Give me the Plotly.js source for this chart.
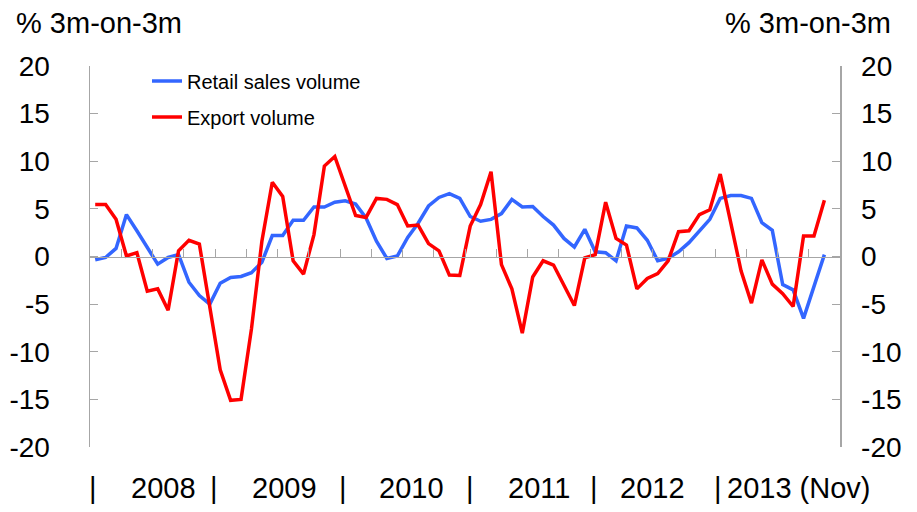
<!DOCTYPE html>
<html>
<head>
<meta charset="utf-8">
<script src="https://cdn.plot.ly/plotly-3.0.1.min.js"></script>
<style>
  html, body { margin: 0; padding: 0; background: #fff; }
  #chart { width: 917px; height: 512px; }
</style>
</head>
<body>
<div id="chart"></div>
<script>
// monthly, Jan 2008 .. Nov 2013 (index 0..70)
const retailSales = [
    -0.35, -0.1, 0.85, 4.4, 2.7, 1.0, -0.8, -0.1, 0.2, -2.7, -4.1, -5.0,
    -2.8, -2.2, -2.1, -1.7, -0.6, 2.2, 2.2, 3.8, 3.8, 5.2, 5.2, 5.7,
    5.85, 5.5, 4.05, 1.6, -0.2, 0.05, 2.0, 3.5, 5.3, 6.2, 6.6, 6.1,
    4.2, 3.7, 3.9, 4.5, 6.0, 5.2, 5.25, 4.2, 3.3, 1.9, 1.0, 2.85,
    0.5, 0.4, -0.45, 3.2, 3.0, 1.7, -0.45, -0.2, 0.5, 1.45, 2.7, 3.9,
    6.1, 6.4, 6.4, 6.1, 3.55, 2.75, -2.95, -3.5, -6.5, -3.2, 0.2
];
const exportVolume = [
    5.45, 5.45, 3.9, 0.05, 0.4, -3.65, -3.4, -5.65, 0.6, 1.7, 1.3, -5.3,
    -11.9, -15.1, -15.0, -7.6, 1.6, 7.8, 6.3, -0.45, -1.85, 2.3, 9.5, 10.5,
    7.4, 4.3, 4.1, 6.1, 6.0, 5.45, 3.2, 3.3, 1.35, 0.6, -1.95, -2.0,
    3.2, 5.45, 8.9, -0.85, -3.4, -8.05, -2.15, -0.45, -0.9, -2.95, -5.15, -0.15,
    0.2, 5.7, 1.9, 1.2, -3.4, -2.3, -1.8, -0.45, 2.6, 2.7, 4.4, 4.9,
    8.65, 3.6, -1.5, -4.9, -0.35, -2.9, -3.9, -5.25, 2.15, 2.15, 5.9
];
const months = retailSales.map((v, i) => i);

// y ticks (plain hyphen for minus, as in the original)
const yTickVals = [-20, -15, -10, -5, 0, 5, 10, 15, 20];
const yTickText = ["-20", "-15", "-10", "-5", "0", "5", "10", "15", "20"];

// bottom labels and where they sit on the month scale
const yearLabels = ["|", "2008", "|", "2009", "|", "2010", "|", "2011", "|", "2012", "|", "2013 (Nov)"];
const yearLabelPos = [-0.2, 6.6, 11.4, 18.2, 23.8, 30.4, 36.0, 42.6, 47.9, 53.5, 59.8, 60.5];

const font = "Liberation Sans, Arial, sans-serif";
const axisGrey = "#a6a6a6";

let data = [
    {
        x: months,
        y: retailSales,
        type: "scatter",
        mode: "lines",
        name: "Retail sales volume",
        legendgroup: "a",
        line: {color: "#3366ff", width: 3.5},
    },
    {
        x: months,
        y: exportVolume,
        type: "scatter",
        mode: "lines",
        name: "Export volume",
        legendgroup: "b",
        yaxis: "y2",
        line: {color: "#ff0000", width: 3.5},
    },
];

let annotations = yearLabels.map(function(t, i) {
    return {
        text: t,
        x: yearLabelPos[i],
        xref: "x",
        y: -0.108,
        yref: "paper",
        xanchor: t === "2013 (Nov)" ? "left" : "center",
        yanchor: "middle",
        showarrow: false,
        font: {family: font, size: 29, color: "#000"},
    };
});
annotations.push({
    text: "% 3m-on-3m", xref: "paper", yref: "paper",
    x: -0.102, y: 1.114, xanchor: "left", yanchor: "middle",
    showarrow: false, font: {family: font, size: 29, color: "#000"},
});
annotations.push({
    text: "% 3m-on-3m", xref: "paper", yref: "paper",
    x: 1.0706, y: 1.114, xanchor: "right", yanchor: "middle",
    showarrow: false, font: {family: font, size: 29, color: "#000"},
});

const yCommon = {
    range: [-20, 20],
    tickmode: "array",
    tickvals: yTickVals,
    ticktext: yTickText,
    ticks: "inside",
    ticklen: 8,
    tickcolor: axisGrey,
    showline: true,
    linecolor: axisGrey,
    linewidth: 1.5,
    showgrid: false,
    zeroline: false,
    tickfont: {family: font, size: 28, color: "#000"},
};

let layout = {
    width: 917,
    height: 512,
    margin: {l: 89.5, r: 77, t: 65.5, b: 64.5},
    paper_bgcolor: "#fff",
    plot_bgcolor: "#fff",
    showlegend: true,
    legend: {
        x: 0.076, y: 1.012, xanchor: "left", yanchor: "top",
        font: {family: font, size: 20, color: "#000"},
        bgcolor: "rgba(0,0,0,0)",
        tracegroupgap: 7,
        itemwidth: 30,
    },
    xaxis: {
        range: [-0.5, 71.5],
        anchor: "free",
        position: 0.5,
        tick0: -0.5,
        dtick: 3,
        ticks: "inside",
        ticklen: 8,
        tickcolor: axisGrey,
        showticklabels: false,
        showline: true,
        linecolor: axisGrey,
        linewidth: 1.5,
        showgrid: false,
        zeroline: false,
    },
    yaxis: Object.assign({}, yCommon, {ticklabelstandoff: 33}),
    yaxis2: Object.assign({}, yCommon, {overlaying: "y", side: "right", anchor: "x", ticklabelstandoff: 14}),
    annotations: annotations,
};

Plotly.newPlot("chart", data, layout, {staticPlot: true});
</script>
</body>
</html>
